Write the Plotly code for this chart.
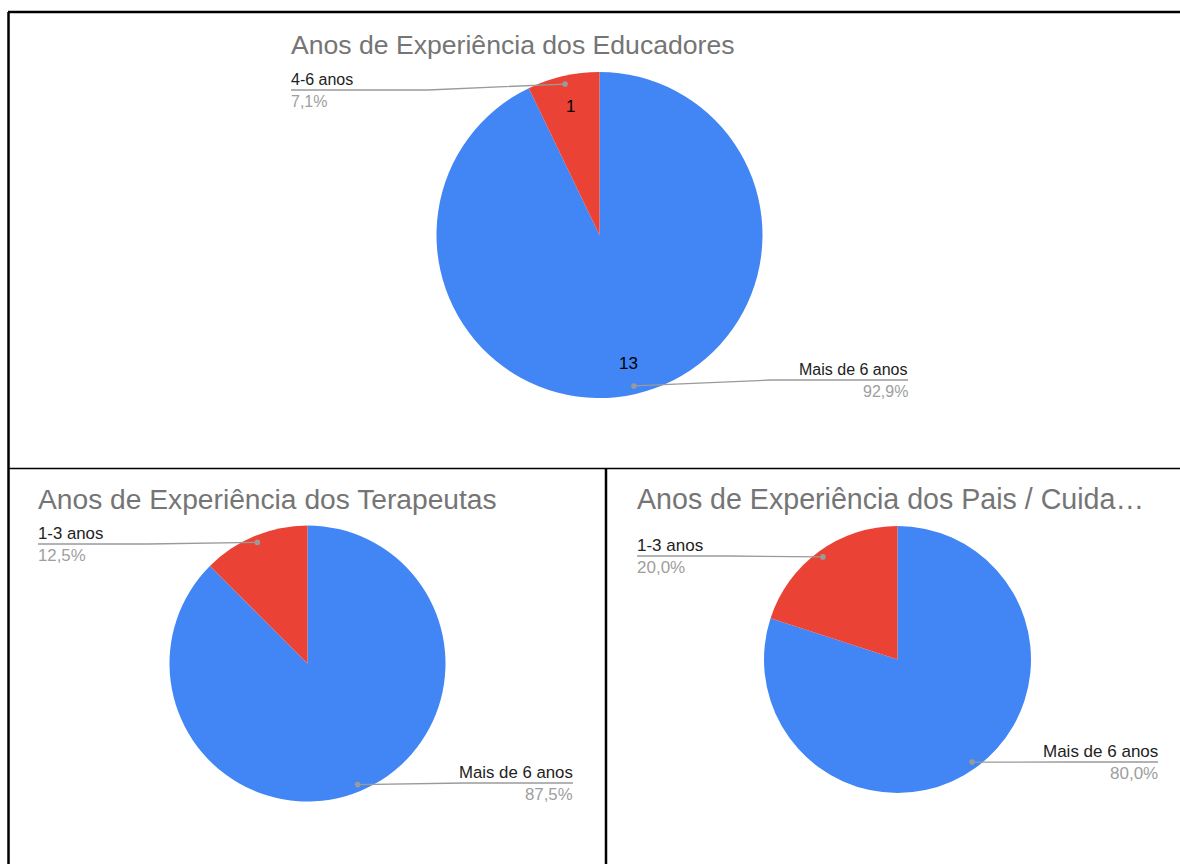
import math
import plotly.graph_objects as go

W, H = 1180, 864

# --- data -------------------------------------------------------------
titles = [
    "Anos de Experiência dos Educadores",
    "Anos de Experiência dos Terapeutas",
    "Anos de Experiência dos Pais / Cuida…",
]
categories_educadores = ["Mais de 6 anos", "4-6 anos"]
values_educadores = [13, 1]
categories_terapeutas = ["Mais de 6 anos", "1-3 anos"]
values_terapeutas = [7, 1]
categories_pais = ["Mais de 6 anos", "1-3 anos"]
values_pais = [4, 1]

colors = ["#4285F4", "#EA4335"]

# --- layout of each panel (pixel space) -------------------------------
panels = [
    dict(cats=categories_educadores, vals=values_educadores, title=titles[0],
         cx=599.5, cy=235, r=163, title_x=291, title_y=45, show_values=True,
         title_size=26.6, label_size=16,
         labels=[dict(side="right", x=908, y=380), dict(side="left", x=291, y=90)]),
    dict(cats=categories_terapeutas, vals=values_terapeutas, title=titles[1],
         cx=307.5, cy=663.5, r=138, title_x=38, title_y=499, show_values=False,
         title_size=28.2, label_size=16.8,
         labels=[dict(side="right", x=573, y=783), dict(side="left", x=38, y=544)]),
    dict(cats=categories_pais, vals=values_pais, title=titles[2],
         cx=897.5, cy=659.5, r=133.5, title_x=637, title_y=499, show_values=False,
         title_size=28.6, label_size=17,
         labels=[dict(side="right", x=1158, y=762), dict(side="left", x=637, y=556)]),
]

FONT = "Liberation Sans, Arial, sans-serif"
PAD = 2  # annotation box padding compensation


def X(px):
    return px / W


def Y(py):
    return 1 - py / H


def pct_text(v, total):
    return f"{100 * v / total:.1f}".replace(".", ",") + "%"


fig = go.Figure()
shapes = []
annotations = []

for p in panels:
    cx, cy, r = p["cx"], p["cy"], p["r"]
    fig.add_trace(go.Pie(
        labels=p["cats"], values=p["vals"],
        marker=dict(colors=colors, line=dict(width=0)),
        sort=False, direction="clockwise", rotation=0,
        textinfo="none", hoverinfo="label+value+percent",
        showlegend=False,
        domain=dict(x=[X(cx - r), X(cx + r)], y=[Y(cy + r), Y(cy - r)]),
    ))

    # chart title
    annotations.append(dict(
        x=X(p["title_x"]), y=Y(p["title_y"]), xref="paper", yref="paper",
        text=p["title"], showarrow=False, xanchor="left", yanchor="middle",
        xshift=-PAD, font=dict(family=FONT, size=p["title_size"], color="#757575"),
    ))

    total = sum(p["vals"])
    start = 0.0
    for i, v in enumerate(p["vals"]):
        frac = v / total
        mid = (start + frac / 2) * 2 * math.pi  # clockwise from 12 o'clock
        start += frac
        sx, sy = math.sin(mid), -math.cos(mid)

        # leader line: dot on the slice, then out to the label underline
        dx, dy = cx + 0.95 * r * sx, cy + 0.95 * r * sy
        lab = p["labels"][i]
        elbow = (dx + lab["x"]) / 2
        shapes.append(dict(
            type="path", xref="paper", yref="paper", layer="above",
            path=f"M {X(dx)},{Y(dy)} L {X(elbow)},{Y(lab['y'])} L {X(lab['x'])},{Y(lab['y'])}",
            line=dict(color="#9a9a9a", width=1.3),
        ))
        rr = 2.8
        shapes.append(dict(
            type="circle", xref="paper", yref="paper", layer="above",
            x0=X(dx - rr), x1=X(dx + rr), y0=Y(dy + rr), y1=Y(dy - rr),
            fillcolor="#9a9a9a", line=dict(width=0),
        ))
        anchor = "left" if lab["side"] == "left" else "right"
        shift = -PAD if anchor == "left" else PAD
        annotations.append(dict(
            x=X(lab["x"]), y=Y(lab["y"] - 10.5), xref="paper", yref="paper",
            text=p["cats"][i], showarrow=False, xanchor=anchor, yanchor="middle",
            xshift=shift, font=dict(family=FONT, size=p["label_size"], color="#222222"),
        ))
        annotations.append(dict(
            x=X(lab["x"]), y=Y(lab["y"] + 11.5), xref="paper", yref="paper",
            text=pct_text(v, total), showarrow=False, xanchor=anchor, yanchor="middle",
            xshift=shift, font=dict(family=FONT, size=p["label_size"], color="#9e9e9e"),
        ))

        # value written inside the slice
        if p["show_values"]:
            tx, ty = cx + 0.81 * r * sx, cy + 0.81 * r * sy
            annotations.append(dict(
                x=X(tx), y=Y(ty), xref="paper", yref="paper",
                text=str(v), showarrow=False, xanchor="center", yanchor="middle",
                font=dict(family=FONT, size=17, color="#000000"),
            ))

# table borders around the three panels
border = [
    (8, 12, 1180, 12, 2.5),
    (8.5, 12, 8.5, 864, 2.5),
    (8, 468.5, 1180, 468.5, 1.5),
    (606, 468, 606, 864, 2.5),
]
for x0, y0, x1, y1, w in border:
    shapes.append(dict(
        type="line", xref="paper", yref="paper", layer="above",
        x0=X(x0), y0=Y(y0), x1=X(x1), y1=Y(y1),
        line=dict(color="#000000", width=w),
    ))

fig.update_layout(
    width=W, height=H,
    margin=dict(l=0, r=0, t=0, b=0),
    paper_bgcolor="#ffffff", plot_bgcolor="#ffffff",
    shapes=shapes, annotations=annotations,
    font=dict(family=FONT),
)

fig.write_html("out.html", config={"displayModeBar": False})
